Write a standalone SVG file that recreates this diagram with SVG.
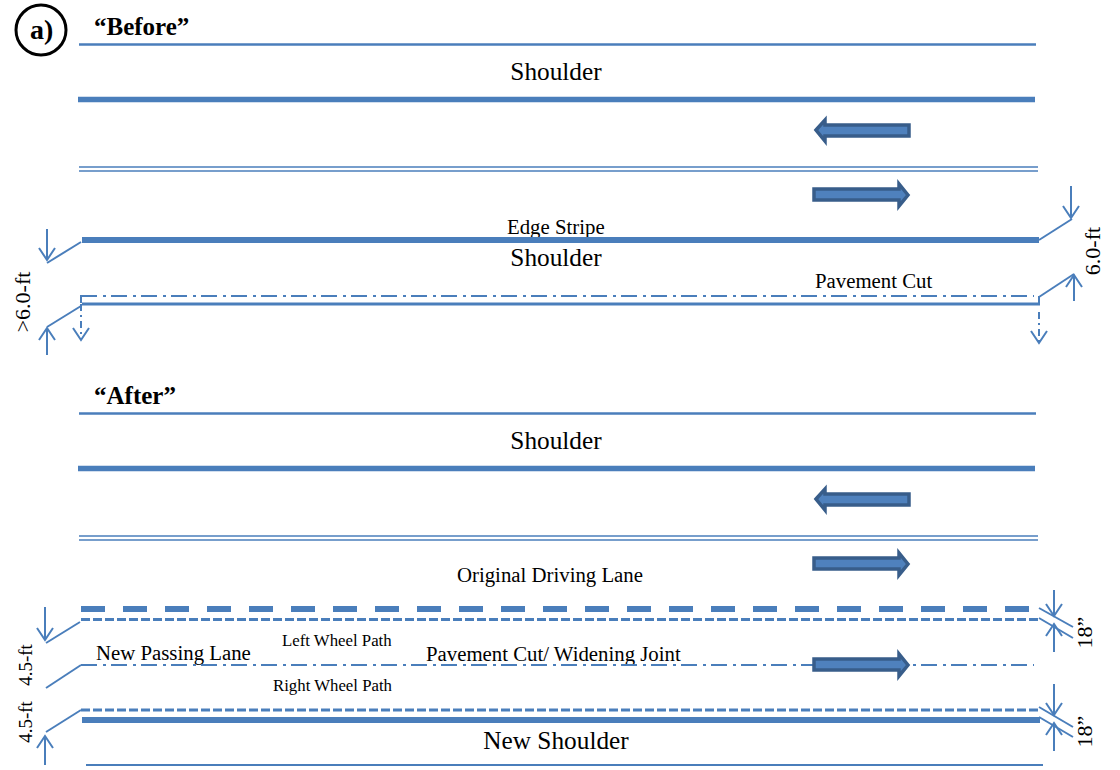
<svg xmlns="http://www.w3.org/2000/svg" width="1120" height="770" viewBox="0 0 1120 770">
<style>
.l{stroke:#4a7ebb;fill:none;stroke-width:2}
.t2{stroke-width:2.5}
.t5{stroke-width:5.500}
.t6{stroke-width:6}
.d1{stroke-width:1.5}
.dd{stroke-dasharray:16 6 3 5}
.ds{stroke-dasharray:9 3;stroke-width:3}
.vd{stroke-dasharray:7 4 2 4}
.a{marker-end:url(#v)}
.b{fill:#4f81bd;stroke:#385d8a;stroke-width:3.5}
text{font-family:"Liberation Serif","Times New Roman",serif;fill:#000}
.bd{font-weight:bold;font-size:25px}
.s{font-size:25.300px;text-anchor:middle}
.m{font-size:20.800px}
.w{font-size:16.800px}
.r{font-size:22px;text-anchor:middle}
</style>
<defs>
<marker id="v" markerUnits="userSpaceOnUse" markerWidth="20" markerHeight="20" refX="13" refY="9" orient="auto"><path d="M1 1L13 9L1 17" fill="none" stroke="#4a7ebb" stroke-width="2"/></marker>
<path id="al" class="b" d="M816 0L825 -10V-5H909V6H825V11Z"/>
<path id="ar" class="b" d="M908 1L899 -10V-5H814V6H899V12Z"/>
</defs>
<g id="label-a"><circle cx="41" cy="30" r="25" fill="none" stroke="#000" stroke-width="3"/><text class="bd" style="font-size:28px" x="30" y="39">a)</text></g>
<g id="before">
<text class="bd" x="94" y="35">“Before”</text>
<line class="l t2" x1="79" y1="44.500" x2="1036" y2="44.500"/>
<text class="s" x="556" y="80">Shoulder</text>
<line class="l t5" x1="78" y1="99.500" x2="1035" y2="99.500"/>
<use href="#al" y="130"/>
<line class="l d1" x1="79" y1="167" x2="1038" y2="167"/>
<line class="l d1" x1="79" y1="171" x2="1038" y2="171"/>
<use href="#ar" y="194"/>
<text class="m" x="507" y="234">Edge Stripe</text>
<line class="l t6" x1="82" y1="240" x2="1039" y2="240"/>
<text class="s" x="556" y="266">Shoulder</text>
<text class="m" x="815" y="288">Pavement Cut</text>
<line class="l dd" x1="81" y1="296" x2="1034" y2="296"/>
<line class="l t2" style="stroke-width:3" x1="82" y1="304" x2="1040" y2="304"/>
<line class="l" x1="81" y1="295" x2="81" y2="303"/>
<line class="l" x1="1039" y1="296" x2="1039" y2="304"/>
</g>
<g id="before-dims">
<line class="l" x1="81" y1="242" x2="47" y2="263"/>
<line class="l a" x1="47" y1="229" x2="47" y2="260"/>
<line class="l" x1="81" y1="306" x2="47" y2="327"/>
<line class="l a" x1="47" y1="355" x2="47" y2="328"/>
<line class="l vd a" x1="81" y1="304" x2="81" y2="340"/>
<line class="l" x1="1039" y1="240" x2="1072" y2="219"/>
<line class="l a" x1="1071" y1="186" x2="1071" y2="218"/>
<line class="l" x1="1039" y1="297" x2="1074" y2="274"/>
<line class="l a" x1="1074" y1="301" x2="1074" y2="275"/>
<line class="l vd a" x1="1039" y1="312" x2="1039" y2="343"/>
<text class="r" transform="translate(30 302) rotate(-90)">&gt;6.0-ft</text>
<text class="r" transform="translate(1100 251) rotate(-90)">6.0-ft</text>
</g>
<g id="after">
<text class="bd" x="94" y="404">“After”</text>
<line class="l t2" x1="79" y1="413.500" x2="1036" y2="413.500"/>
<text class="s" x="556" y="449">Shoulder</text>
<line class="l t5" x1="78" y1="468.500" x2="1035" y2="468.500"/>
<use href="#al" y="499"/>
<line class="l d1" x1="79" y1="536" x2="1038" y2="536"/>
<line class="l d1" x1="79" y1="540" x2="1038" y2="540"/>
<use href="#ar" y="563"/>
<text class="m" x="457" y="582">Original Driving Lane</text>
<line class="l t6" style="stroke-dasharray:24 18" x1="81" y1="609" x2="1030" y2="609"/>
<line class="l ds" x1="81" y1="619.500" x2="1039" y2="619.500"/>
<text class="m" x="96" y="660">New Passing Lane</text>
<text class="w" x="282" y="646">Left Wheel Path</text>
<text class="m" x="426" y="661">Pavement Cut/ Widening Joint</text>
<line class="l dd" x1="81" y1="665" x2="1034" y2="665"/>
<use href="#ar" y="664"/>
<text class="w" x="273" y="691">Right Wheel Path</text>
<line class="l ds" x1="81" y1="710" x2="1039" y2="710"/>
<line class="l t6" x1="82" y1="720" x2="1040" y2="720"/>
<text class="s" x="556" y="749">New Shoulder</text>
<line class="l" x1="86" y1="765" x2="1043" y2="765"/>
</g>
<g id="after-dims">
<line class="l" x1="80" y1="622" x2="46" y2="643"/>
<line class="l a" x1="45" y1="607" x2="45" y2="640"/>
<line class="l" x1="81" y1="665" x2="46" y2="688"/>
<line class="l" x1="81" y1="710" x2="46" y2="732"/>
<line class="l a" x1="45" y1="765" x2="45" y2="736"/>
<text class="r" style="font-size:19px" transform="translate(32 665) rotate(-90)">4.5-ft</text>
<text class="r" style="font-size:19px" transform="translate(32 722) rotate(-90)">4.5-ft</text>
<line class="l" x1="1039" y1="608" x2="1073" y2="627"/>
<line class="l" x1="1039" y1="618" x2="1073" y2="638"/>
<line class="l a" x1="1054" y1="590" x2="1054" y2="616"/>
<line class="l a" x1="1054" y1="652" x2="1054" y2="624"/>
<line class="l" x1="1039" y1="707" x2="1073" y2="727"/>
<line class="l" x1="1039" y1="717" x2="1073" y2="737"/>
<line class="l a" x1="1054" y1="684" x2="1054" y2="715"/>
<line class="l a" x1="1054" y1="751" x2="1054" y2="723"/>
<text class="r" transform="translate(1092 632.500) rotate(-90)">18”</text>
<text class="r" transform="translate(1092 731.500) rotate(-90)">18”</text>
</g>
</svg>
